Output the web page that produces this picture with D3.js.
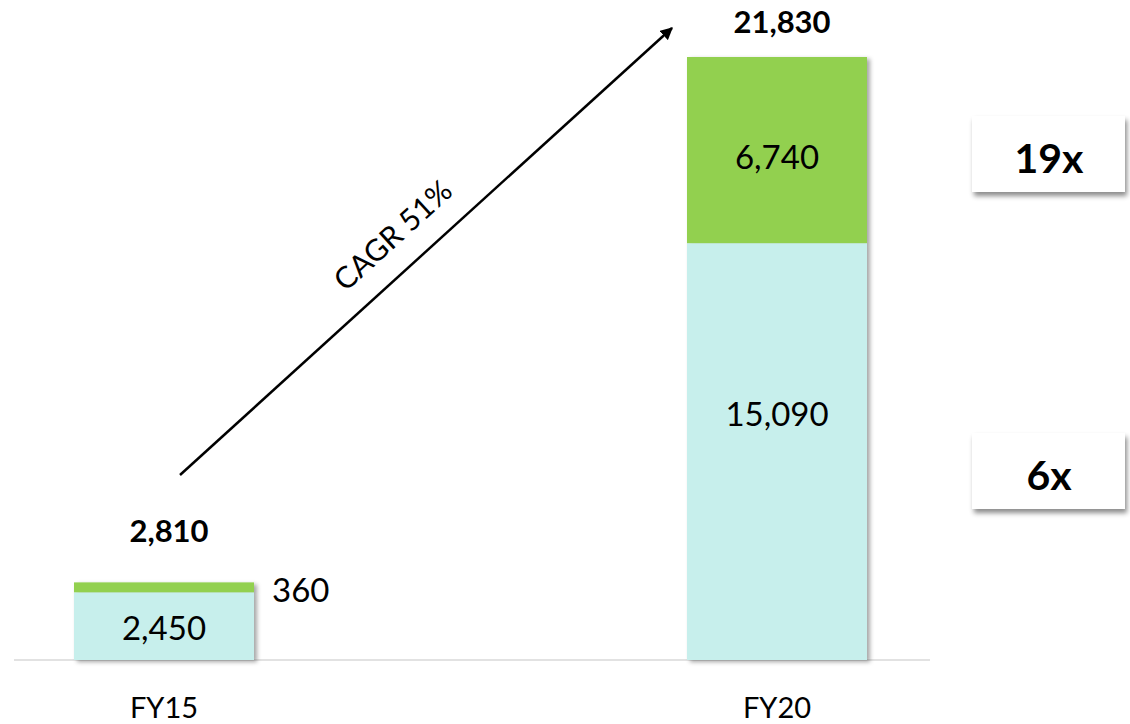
<!DOCTYPE html>
<html>
<head>
<meta charset="utf-8">
<script src="https://cdn.jsdelivr.net/npm/d3@7"></script>
<style>
  body { margin: 0; background: #fff; }
  text { font-family: Lato, "Open Sans", sans-serif; fill: #000; }
</style>
</head>
<body>
<script>
// chart values
var categories = ["FY15", "FY20"];
var baseValues = [2450, 15090];
var topValues = [360, 6740];
var totals = [2810, 21830];
var multiples = ["19x", "6x"];
var cagrLabel = "CAGR 51%";

var w = 1130;
var h = 724;

var baseColor = "#c7efec";
var topColor = "#92d050";

var svg = d3.select("body").append("svg").attr("width", w).attr("height", h);

var defs = svg.append("defs");
defs.append("filter").attr("id", "barShadow")
  .attr("x", "-10%").attr("y", "-10%").attr("width", "130%").attr("height", "130%")
  .append("feDropShadow")
  .attr("dx", 3).attr("dy", 2).attr("stdDeviation", 2)
  .attr("flood-color", "#000").attr("flood-opacity", 0.35);
defs.append("filter").attr("id", "boxShadow")
  .attr("x", "-10%").attr("y", "-20%").attr("width", "130%").attr("height", "160%")
  .append("feDropShadow")
  .attr("dx", 2).attr("dy", 4).attr("stdDeviation", 2.5)
  .attr("flood-color", "#000").attr("flood-opacity", 0.45);
defs.append("marker").attr("id", "arrowHead")
  .attr("viewBox", "0 0 10 10").attr("refX", 9).attr("refY", 5)
  .attr("markerWidth", 5).attr("markerHeight", 5).attr("orient", "auto")
  .append("path").attr("d", "M0,0 L10,5 L0,10 z").attr("fill", "#000");

// scales
var x = d3.scalePoint().domain(categories).range([164, 777]);
var y = d3.scaleLinear().domain([0, d3.max(totals)]).range([660, 57]);
var barW = 180;

var table = categories.map(function(c, i) {
  return { cat: c, base: baseValues[i], top: topValues[i], total: totals[i] };
});
var stack = d3.stack().keys(["base", "top"])(table);
var colors = { base: baseColor, top: topColor };

// baseline
svg.append("line")
  .attr("x1", 14).attr("x2", 930)
  .attr("y1", y(0)).attr("y2", y(0))
  .attr("stroke", "#d9d9d9").attr("stroke-width", 1.5);

// bars (shadow applied per bar group)
var barGroups = svg.selectAll("g.bar").data(table).enter().append("g")
  .attr("class", "bar")
  .attr("filter", "url(#barShadow)");

barGroups.each(function(d, i) {
  var g = d3.select(this);
  stack.forEach(function(layer) {
    var seg = layer[i];
    g.append("rect")
      .attr("x", x(d.cat) - barW / 2)
      .attr("y", y(seg[1]))
      .attr("width", barW)
      .attr("height", y(seg[0]) - y(seg[1]))
      .attr("fill", colors[layer.key]);
  });
});

var fmt = d3.format(",");

// segment labels
svg.selectAll("text.base").data(table).enter().append("text")
  .attr("x", function(d) { return x(d.cat); })
  .attr("y", function(d, i) { return i == 0 ? (y(0) + y(d.base)) / 2 + 2 : (y(0) + y(d.base)) / 2 - 37; })
  .attr("dy", "0.36em")
  .attr("text-anchor", "middle")
  .style("font-size", "33px")
  .text(function(d) { return fmt(d.base); });

svg.selectAll("text.top").data(table).enter().append("text")
  .attr("x", function(d, i) { return i == 0 ? x(d.cat) + barW / 2 + 18 : x(d.cat); })
  .attr("y", function(d, i) { return i == 0 ? y(d.total) + 8 : (y(d.base) + y(d.total)) / 2 + 7; })
  .attr("dy", "0.36em")
  .attr("text-anchor", function(d, i) { return i == 0 ? "start" : "middle"; })
  .style("font-size", "33px")
  .text(function(d) { return fmt(d.top); });

// totals
svg.selectAll("text.total").data(table).enter().append("text")
  .attr("x", function(d) { return x(d.cat) + 5; })
  .attr("y", function(d, i) { return i == 0 ? y(d.total) - 52 : y(d.total) - 35; })
  .attr("dy", "0.36em")
  .attr("text-anchor", "middle")
  .style("font-size", "31px").style("font-weight", "bold")
  .text(function(d) { return fmt(d.total); });

// category labels
svg.selectAll("text.cat").data(categories).enter().append("text")
  .attr("x", function(d) { return x(d); })
  .attr("y", 708)
  .attr("dy", "0.36em")
  .attr("text-anchor", "middle")
  .style("font-size", "29px")
  .text(function(d) { return d; });

// CAGR arrow
var ax1 = x("FY15") + 16, ay1 = 475;
var ax2 = x("FY20") - 105, ay2 = 28;
svg.append("line")
  .attr("x1", ax1).attr("y1", ay1).attr("x2", ax2).attr("y2", ay2)
  .attr("stroke", "#000").attr("stroke-width", 2.5)
  .attr("marker-end", "url(#arrowHead)");

var ang = Math.atan2(ay2 - ay1, ax2 - ax1) * 180 / Math.PI;
svg.append("text")
  .attr("transform", "translate(400,243) rotate(" + ang + ")")
  .attr("text-anchor", "middle")
  .style("font-size", "30px")
  .text(cagrLabel);

// multiple boxes
var boxY = [116, 433];
var boxes = svg.selectAll("g.mult").data(multiples).enter().append("g")
  .attr("class", "mult")
  .attr("transform", function(d, i) { return "translate(972," + boxY[i] + ")"; });
boxes.append("rect")
  .attr("width", 153).attr("height", 76)
  .attr("fill", "#fff")
  .attr("filter", "url(#boxShadow)");
boxes.append("text")
  .attr("x", 77).attr("y", 42)
  .attr("dy", "0.36em")
  .attr("text-anchor", "middle")
  .style("font-size", "41px").style("font-weight", "bold")
  .text(function(d) { return d; });
</script>
</body>
</html>
